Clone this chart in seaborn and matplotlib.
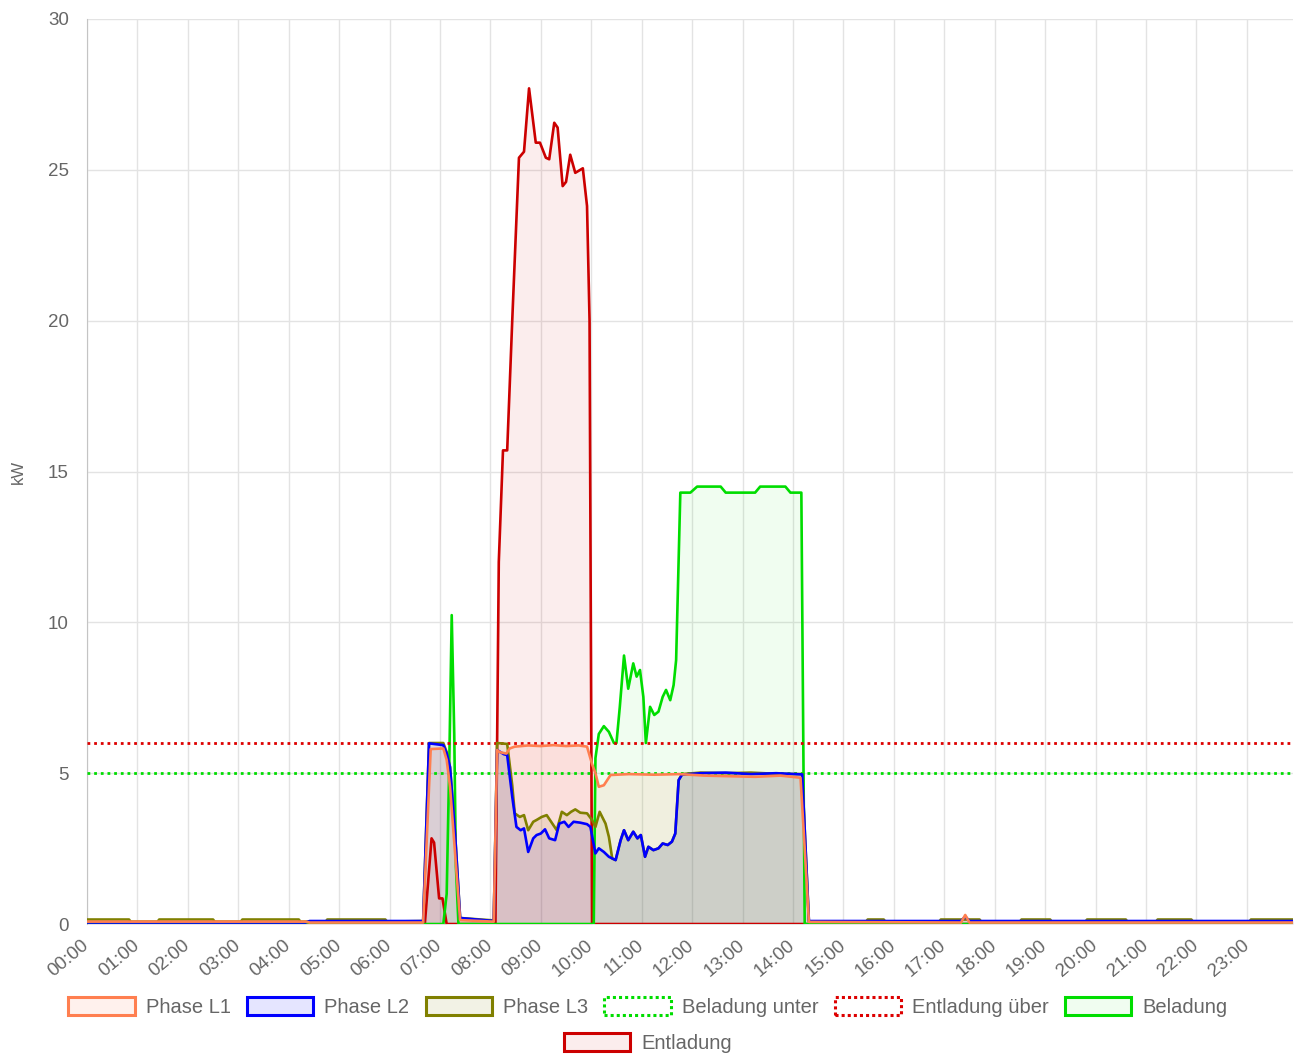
import pandas as pd
import matplotlib
matplotlib.use("Agg")
import matplotlib.pyplot as plt
import matplotlib.patches as mpatches
from matplotlib.colors import to_rgba
import seaborn as sns

# Leistung je Phase / Beladung / Entladung (kW), Zeitpunkte HH:MM
l1_t = ["00:00", "04:20", "04:25", "06:40", "06:46", "06:49", "07:04", "07:08", "07:12", "07:18", "07:24",
        "08:04", "08:08", "08:11", "08:19", "08:23", "08:29", "08:45", "09:00", "09:15", "09:30", "09:45", "09:55",
        "10:01", "10:05", "10:09", "10:15", "10:23", "10:45", "11:15", "11:45", "12:15", "12:45", "13:15", "13:45",
        "14:09", "14:14", "14:19", "17:20", "17:25", "17:30", "23:55"]
l1_v = [0.08, 0.08, 0.05, 0.05, 3.9, 5.8, 5.82, 5.44, 4.55, 2.35, 0.13,
        0.08, 5.77, 5.7, 5.65, 5.82, 5.88, 5.92, 5.9, 5.93, 5.9, 5.92, 5.88,
        5.3, 5.0, 4.55, 4.6, 4.94, 4.97, 4.95, 4.97, 4.92, 4.9, 4.88, 4.92,
        4.85, 2.5, 0.07, 0.05, 0.3, 0.05, 0.05]

l2_t = ["00:00", "04:20", "04:25", "06:40", "06:47", "07:04", "07:08", "07:12", "07:18", "07:24",
        "08:04", "08:08", "08:16", "08:20", "08:26", "08:31", "08:36", "08:40", "08:45", "08:51",
        "08:55", "09:00", "09:05", "09:10", "09:17", "09:22", "09:28", "09:33", "09:39", "09:47",
        "09:55", "09:59", "10:05", "10:09", "10:15", "10:21", "10:29", "10:35", "10:39", "10:44",
        "10:50", "10:55", "10:59", "11:04", "11:08", "11:14", "11:20", "11:25", "11:31", "11:36",
        "11:40", "11:44", "11:48", "12:10", "12:40", "13:10", "13:40", "14:11", "14:19",
        "17:20", "17:25", "17:30", "23:55"]
l2_v = [0.05, 0.05, 0.1, 0.1, 5.99, 5.93, 5.66, 5.2, 3.0, 0.2,
        0.1, 5.77, 5.63, 5.6, 4.22, 3.22, 3.11, 3.17, 2.39, 2.84,
        2.95, 3.0, 3.14, 2.84, 2.78, 3.33, 3.39, 3.22, 3.39, 3.36,
        3.31, 3.22, 2.34, 2.51, 2.39, 2.23, 2.12, 2.78, 3.11, 2.78,
        3.06, 2.84, 2.95, 2.23, 2.56, 2.45, 2.51, 2.67, 2.62, 2.73,
        3.0, 4.77, 4.95, 5.0, 5.02, 4.97, 5.0, 4.96, 0.1,
        0.1, 0.25, 0.1, 0.1]

l3_t = ["00:00", "00:50", "00:52", "01:24", "01:26", "02:30", "02:32", "03:03", "03:05", "04:12",
        "04:14", "04:44", "04:46", "05:55", "05:57", "06:40", "06:47", "07:04", "07:08", "07:12",
        "07:18", "07:24", "08:04", "08:08", "08:20", "08:26", "08:29", "08:35", "08:40", "08:45",
        "08:51", "08:55", "09:01", "09:07", "09:13", "09:19", "09:25", "09:31", "09:36", "09:41",
        "09:47", "09:55", "10:01", "10:05", "10:10", "10:17", "10:21", "10:25", "10:29", "10:35",
        "10:39", "10:44", "10:50", "10:55", "10:59", "11:04", "11:08", "11:14", "11:20", "11:25",
        "11:31", "11:36", "11:40", "11:44", "11:48", "12:10", "12:40", "13:10", "13:40", "14:11",
        "14:19", "15:27", "15:29", "15:48", "15:50", "16:54", "16:56", "17:42", "17:44", "18:30",
        "18:32", "19:06", "19:08", "19:48", "19:50", "20:36", "20:38", "21:12", "21:14", "21:54",
        "21:56", "23:03", "23:05", "23:55"]
l3_v = [0.15, 0.15, 0.08, 0.08, 0.15, 0.15, 0.08, 0.08, 0.15, 0.15,
        0.08, 0.08, 0.15, 0.15, 0.08, 0.1, 6.0, 6.0, 5.7, 5.2,
        3.0, 0.2, 0.12, 6.0, 5.97, 4.6, 3.67, 3.55, 3.61, 3.11,
        3.39, 3.45, 3.55, 3.61, 3.36, 3.11, 3.72, 3.61, 3.72, 3.8,
        3.69, 3.67, 3.45, 3.22, 3.72, 3.33, 2.89, 2.17, 2.12, 2.78,
        3.11, 2.78, 3.06, 2.84, 2.95, 2.23, 2.56, 2.45, 2.51, 2.67,
        2.62, 2.73, 3.0, 4.77, 4.97, 5.02, 5.0, 5.02, 4.98, 4.97,
        0.08, 0.08, 0.15, 0.15, 0.08, 0.08, 0.15, 0.15, 0.08, 0.08,
        0.15, 0.15, 0.08, 0.08, 0.15, 0.15, 0.08, 0.08, 0.15, 0.15,
        0.08, 0.08, 0.15, 0.15]

bel_t = ["00:00", "07:04", "07:08", "07:11", "07:14", "07:17", "07:19", "07:22",
         "10:03", "10:05", "10:09", "10:15", "10:21", "10:27", "10:30", "10:34", "10:39", "10:44",
         "10:50", "10:54", "10:58", "11:02", "11:05", "11:10", "11:15", "11:20", "11:25", "11:29",
         "11:34", "11:38", "11:41", "11:46", "11:58", "12:06", "12:34", "12:40", "13:15", "13:21",
         "13:51", "13:57", "14:10", "14:14", "23:55"]
bel_v = [0, 0, 1.0, 5.2, 10.24, 6.3, 1.9, 0,
         0, 5.5, 6.3, 6.56, 6.37, 6.0, 6.0, 7.2, 8.9, 7.8,
         8.64, 8.2, 8.42, 7.53, 6.0, 7.2, 6.93, 7.04, 7.53, 7.76,
         7.42, 7.92, 8.75, 14.3, 14.3, 14.5, 14.5, 14.3, 14.3, 14.5,
         14.5, 14.3, 14.3, 0, 0]

ent_t = ["00:00", "06:42", "06:50", "06:53", "06:59", "07:03", "07:08",
         "08:06", "08:10", "08:15", "08:20", "08:26", "08:34", "08:40", "08:46", "08:54", "08:59",
         "09:06", "09:10", "09:16", "09:20", "09:26", "09:30", "09:35", "09:41", "09:50", "09:55",
         "09:58", "10:01", "23:55"]
ent_v = [0, 0, 2.84, 2.7, 0.85, 0.85, 0,
         0, 12, 15.7, 15.7, 20, 25.4, 25.6, 27.7, 25.9, 25.9,
         25.4, 25.35, 26.56, 26.4, 24.46, 24.6, 25.5, 24.9, 25.05, 23.8,
         20, 0, 0]

# Schwellwerte
beladung_unter = 5
entladung_ueber = 6

hour_labels = [f"{h:02d}:00" for h in range(24)]


def to_hours(times):
    return [pd.Timedelta(t + ":00").total_seconds() / 3600 for t in times]


sns.set_style("white")
plt.rcParams["font.family"] = ["Liberation Sans", "DejaVu Sans"]

fig = plt.figure(figsize=(12.96, 10.54), dpi=100)
ax = fig.add_axes([0.0671, 0.1233, 0.9306, 0.8587])

# name, times, values, color, fill alpha, zorder (erste Serie oben wie in Chart.js)
series = [
    ("Phase L1", l1_t, l1_v, "#ff7f50", 0.10, 9),
    ("Phase L2", l2_t, l2_v, "#0000ff", 0.10, 8),
    ("Phase L3", l3_t, l3_v, "#808000", 0.10, 7),
    ("Beladung", bel_t, bel_v, "#00dd00", 0.06, 4),
    ("Entladung", ent_t, ent_v, "#cc0000", 0.07, 3),
]

for name, t, v, col, alpha, z in series:
    df = pd.DataFrame({"h": to_hours(t), "kW": v})
    ax.fill_between(df["h"], 0, df["kW"], color=col, alpha=alpha, lw=0, zorder=1)
    sns.lineplot(data=df, x="h", y="kW", ax=ax, color=col, lw=1.9,
                 estimator=None, sort=False, zorder=z)

x_span = to_hours(["00:00", "23:55"])
sns.lineplot(x=x_span, y=[beladung_unter] * 2, ax=ax, color="#00dd00", lw=2.0,
             dashes=False, zorder=6).lines[-1].set_dashes((1, 1.4))
sns.lineplot(x=x_span, y=[entladung_ueber] * 2, ax=ax, color="#dd0000", lw=2.0,
             dashes=False, zorder=5).lines[-1].set_dashes((1, 1.4))

ax.set_xlim(x_span[0], x_span[1])
ax.set_ylim(0, 30)
ax.set_xticks(range(24))
ax.set_xticklabels(hour_labels, rotation=40, ha="right", va="center", rotation_mode="anchor")
ax.set_yticks(range(0, 31, 5))
ax.grid(True, color="#e3e3e3", lw=1.0)
ax.set_axisbelow(True)
for s in ["top", "right", "bottom"]:
    ax.spines[s].set_visible(False)
ax.spines["left"].set_color("#c4c4c4")
ax.tick_params(axis="both", color="#e3e3e3", labelcolor="#666666", labelsize=13.5)
ax.tick_params(axis="x", length=7, pad=7)
ax.tick_params(axis="y", length=12, pad=1)
ax.set_xlabel("")
ax.set_ylabel("kW", color="#666666", fontsize=12, labelpad=16)

def box(col, alpha, ls="-"):
    fc = to_rgba(col, alpha) if alpha else "white"
    return mpatches.Patch(facecolor=fc, edgecolor=col, lw=2.2, linestyle=ls)

handles = [box("#ff7f50", 0.10), box("#0000ff", 0.10), box("#808000", 0.10),
           box("#00dd00", 0, (0, (1, 1))), box("#dd0000", 0, (0, (1, 1))), box("#00dd00", 0.06)]
labels = ["Phase L1", "Phase L2", "Phase L3", "Beladung unter", "Entladung über", "Beladung"]
leg_kw = dict(frameon=False, fontsize=14.5, labelcolor="#666666", handlelength=3.3,
              handleheight=1.0, handletextpad=0.55, columnspacing=0.8)
fig.legend(handles, labels, ncol=6, loc="center", bbox_to_anchor=(0.5, 1 - 1007 / 1054), **leg_kw)
fig.legend([box("#cc0000", 0.07)], ["Entladung"], ncol=1, loc="center",
           bbox_to_anchor=(0.5, 1 - 1043 / 1054), **leg_kw)

fig.savefig("out.png", dpi=100)
